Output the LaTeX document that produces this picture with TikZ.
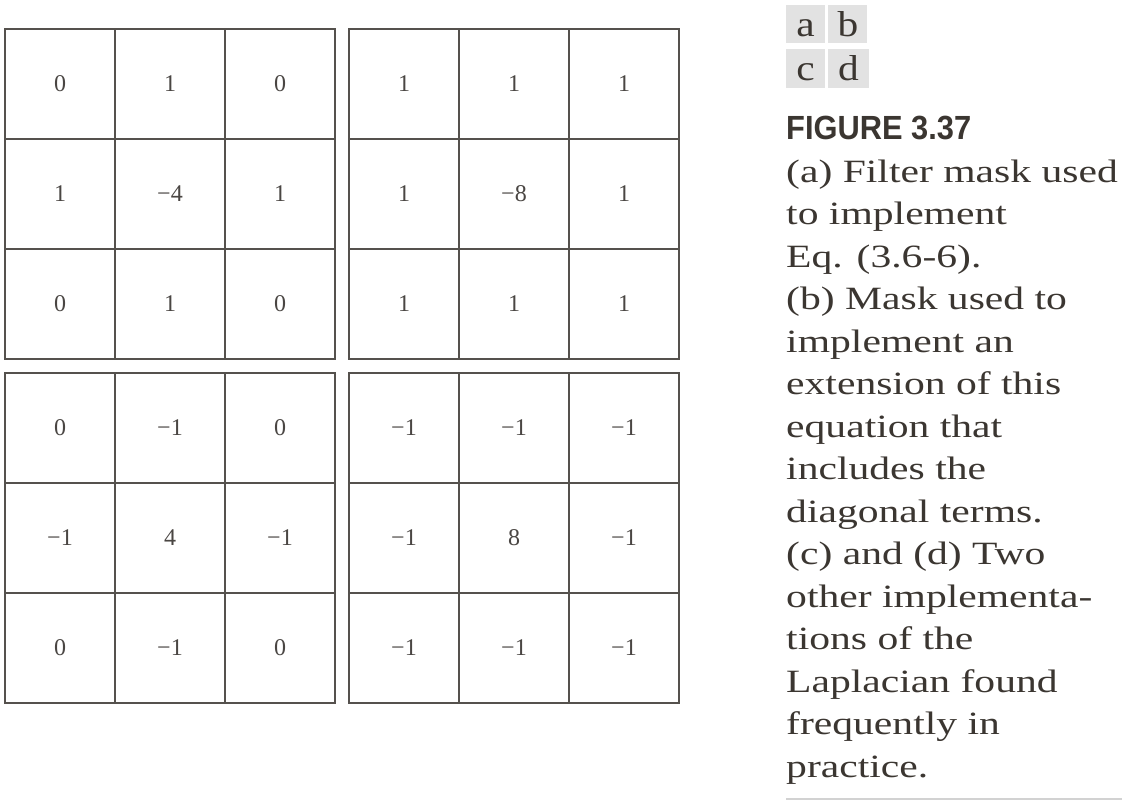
\documentclass[tikz,border=0pt]{standalone}
\usepackage{fontspec}
\setmainfont{Liberation Serif}
\newfontfamily\capfont{Liberation Serif}[FakeStretch=1.28]
\newfontfamily\lblfont{Liberation Serif}[FakeStretch=1.15]
\newfontfamily\headfont{Liberation Sans}[FakeStretch=0.92]
\newfontfamily\numfont{Liberation Serif}
\definecolor{txt}{HTML}{3B3631}
\definecolor{gridline}{HTML}{55514D}
\definecolor{numcol}{HTML}{4A4643}
\definecolor{boxfill}{HTML}{E2E2E2}
\definecolor{rulecol}{HTML}{D2D2D2}
\newcommand\maskgrid[4]{%
  \foreach \v [count=\i from 0] in {#4} {%
    \pgfmathtruncatemacro\rr{\i/3}%
    \pgfmathtruncatemacro\cc{\i-3*\rr}%
    \node[cell] (#1-\rr\cc) at ({#2+55+110*\cc},{#3+55+110*\rr}) {\v};
  }%
}
\begin{document}
\begin{tikzpicture}[x=1pt,y=-1pt,
  cell/.style={draw=gridline,line width=1.3pt,minimum width=110pt,minimum height=110pt,
    inner sep=0pt,font=\numfont\fontsize{24}{24}\selectfont,text=numcol},
  capline/.style={anchor=base west,inner sep=0pt,text=txt,font=\capfont\fontsize{32.5}{32.5}\selectfont},
  headline/.style={anchor=base west,inner sep=0pt,text=txt,font=\headfont\bfseries\fontsize{33.5}{33.5}\selectfont},
  lblbox/.style={fill=boxfill,inner sep=0pt,text=txt,font=\lblfont\fontsize{36}{36}\selectfont},
]
\useasboundingbox (0,0) rectangle (1135,806);
\fill[white] (0,0) rectangle (1135,806);

\maskgrid{a}{5}{29}{0,1,0,1,−4,1,0,1,0}
\maskgrid{b}{349}{29}{1,1,1,1,−8,1,1,1,1}
\maskgrid{c}{5}{373}{0,−1,0,−1,4,−1,0,−1,0}
\maskgrid{d}{349}{373}{−1,−1,−1,−1,8,−1,−1,−1,−1}

% label boxes
\path[fill=boxfill] (786,5) rectangle (825,43);
\path[fill=boxfill] (828,5) rectangle (867,43);
\path[fill=boxfill] (786,49) rectangle (825,88);
\path[fill=boxfill] (828,49) rectangle (869,88);
\node[anchor=base,inner sep=0pt,text=txt,font=\lblfont\fontsize{36}{36}\selectfont] (la) at (805.5,36) {a};
\node[anchor=base,inner sep=0pt,text=txt,font=\lblfont\fontsize{36}{36}\selectfont] (lb) at (848,36) {b};
\node[anchor=base,inner sep=0pt,text=txt,font=\lblfont\fontsize{36}{36}\selectfont] (lc) at (805.5,80) {c};
\node[anchor=base,inner sep=0pt,text=txt,font=\lblfont\fontsize{36}{36}\selectfont] (ld) at (848.5,80) {d};

% caption
\node[headline] (l1) at (786,139) {FIGURE 3.37};
\node[capline] (l2) at (786,182) {(a) Filter mask used};
\node[capline] (l3) at (786,224.5) {to implement};
\node[capline] (l4) at (786,267) {Eq. (3.6-6).};
\node[capline] (l5) at (786,309.5) {(b) Mask used to};
\node[capline] (l6) at (786,352) {implement an};
\node[capline] (l7) at (786,394.5) {extension of this};
\node[capline] (l8) at (786,437) {equation that};
\node[capline] (l9) at (786,479.5) {includes the};
\node[capline] (l10) at (786,522) {diagonal terms.};
\node[capline] (l11) at (786,564.5) {(c) and (d) Two};
\node[capline] (l12) at (786,607) {other implementa-};
\node[capline] (l13) at (786,649.5) {tions of the};
\node[capline] (l14) at (786,692) {Laplacian found};
\node[capline] (l15) at (786,734.5) {frequently in};
\node[capline] (l16) at (786,777) {practice.};

\draw[rulecol,line width=1.5pt] (786,799) -- (1122,799);
\end{tikzpicture}
\end{document}
